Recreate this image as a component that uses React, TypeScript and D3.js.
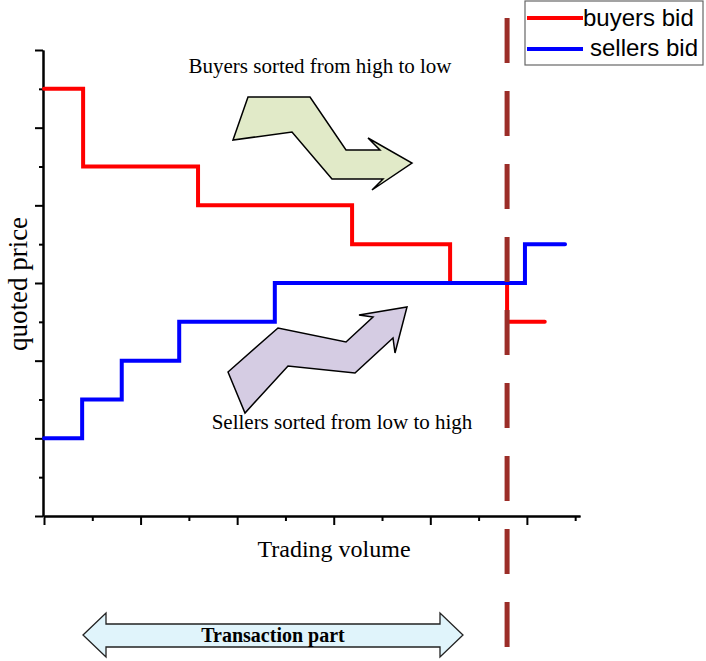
import { useEffect, useRef } from 'react'
import * as d3 from 'd3'

// buyers bid: step levels, sorted high to low
const buyersVolume = [0, 0.81, 3.19, 6.38, 8.41, 9.59, 10.37]
const buyersPrice = [11, 9, 8, 7, 6, 5, 5]

// sellers bid: step levels, sorted low to high
const sellersVolume = [0, 0.79, 1.61, 2.8, 4.78, 9.96, 10.79]
const sellersPrice = [2, 3, 4, 5, 6, 7, 7]

const clearingVolume = 9.59

const majorX = [0, 2, 4, 6, 8, 10]
const minorX = [1, 3, 5, 7, 9, 11]
const majorY = [0, 2, 4, 6, 8, 10, 12]
const minorY = [1, 3, 5, 7, 9, 11]

const WIDTH = 706
const HEIGHT = 661
const serif = '"Liberation Serif", "Times New Roman", serif'
const sans = '"Liberation Sans", Arial, sans-serif'

// annotation shapes (pixel space)
const greenArrow = [[233, 140], [248, 97], [310, 97], [346, 150], [380, 150], [368, 138], [412, 163], [372, 190], [383, 179], [332, 179], [292, 132]]
const purpleArrow = [[228, 372], [278, 328], [346, 342], [373, 317], [359, 315], [407, 307], [395, 353], [393, 338], [355, 373], [288, 366], [245, 413]]
const transactionArrow = [[83, 635], [106, 613], [106, 624], [440, 624], [440, 613], [463, 635], [440, 657], [440, 647], [106, 647], [106, 657]]

export default function App() {
  const xAxisRef = useRef<SVGGElement>(null)
  const yAxisRef = useRef<SVGGElement>(null)

  const x = d3.scaleLinear().domain([0, 11.1]).range([44, 580])
  const y = d3.scaleLinear().domain([0, 12]).range([516, 50])

  useEffect(() => {
    const gx = d3.select(xAxisRef.current)
    gx.selectAll('*').remove()
    gx.append('g').call(d3.axisBottom(x).tickValues(majorX).tickSize(9).tickSizeOuter(0).tickFormat(() => ''))
    gx.append('g').call(d3.axisBottom(x).tickValues(minorX).tickSize(5).tickSizeOuter(0).tickFormat(() => ''))
    gx.selectAll('path, line').attr('stroke', '#000').attr('stroke-width', 2)

    const gy = d3.select(yAxisRef.current)
    gy.selectAll('*').remove()
    gy.append('g').call(d3.axisLeft(y).tickValues(majorY).tickSize(8).tickSizeOuter(0).tickFormat(() => ''))
    gy.append('g').call(d3.axisLeft(y).tickValues(minorY).tickSize(4).tickSizeOuter(0).tickFormat(() => ''))
    gy.selectAll('path, line').attr('stroke', '#000').attr('stroke-width', 2)
  }, [])

  const line = d3.line<[number, number]>()
    .x(d => x(d[0]))
    .y(d => y(d[1]))
    .curve(d3.curveStepAfter)

  const buyers = buyersVolume.map((v, i) => [v, buyersPrice[i]] as [number, number])
  const sellers = sellersVolume.map((v, i) => [v, sellersPrice[i]] as [number, number])

  const poly = (pts: number[][]) => pts.map(p => p.join(',')).join(' ')

  return (
    <svg width={WIDTH} height={HEIGHT} style={{ position: 'absolute', left: 0, top: 0, background: '#fff' }}>
      <g ref={xAxisRef} transform={`translate(0,${y(0)})`} />
      <g ref={yAxisRef} transform={`translate(${x(0) - 1},0)`} />

      <path d={line(buyers) ?? ''} fill="none" stroke="#ff0000" strokeWidth={4} strokeLinecap="round" />
      <path d={line(sellers) ?? ''} fill="none" stroke="#0000ff" strokeWidth={4} strokeLinecap="round" />

      <line
        x1={x(clearingVolume)} x2={x(clearingVolume)}
        y1={18} y2={650}
        stroke="#9b2d28" strokeWidth={5} strokeDasharray="45 28"
      />

      <polygon points={poly(greenArrow)} fill="#e1eac8" stroke="#000" strokeWidth={1.5} strokeLinejoin="miter" />
      <polygon points={poly(purpleArrow)} fill="#d5cce3" stroke="#000" strokeWidth={1.5} strokeLinejoin="miter" />
      <polygon points={poly(transactionArrow)} fill="#e0f4fb" stroke="#222" strokeWidth={1.3} />

      <text x={320} y={73} textAnchor="middle" fontFamily={serif} fontSize={21}>Buyers sorted from high to low</text>
      <text x={342} y={429} textAnchor="middle" fontFamily={serif} fontSize={21}>Sellers sorted from low to high</text>
      <text x={334} y={557} textAnchor="middle" fontFamily={serif} fontSize={24}>Trading volume</text>
      <text transform="translate(27,284) rotate(-90)" textAnchor="middle" fontFamily={serif} fontSize={27}>quoted price</text>
      <text x={273} y={642} textAnchor="middle" fontFamily={serif} fontSize={20} fontWeight="bold">Transaction part</text>

      <g>
        <rect x={525} y={1} width={178} height={64} fill="#fff" stroke="#666" strokeWidth={1.2} />
        <line x1={527} x2={583} y1={18} y2={18} stroke="#ff0000" strokeWidth={4} />
        <line x1={527} x2={583} y1={49} y2={49} stroke="#0000ff" strokeWidth={4} />
        <text x={583} y={26} fontFamily={sans} fontSize={24}>buyers bid</text>
        <text x={590} y={56} fontFamily={sans} fontSize={24}>sellers bid</text>
      </g>
    </svg>
  )
}
